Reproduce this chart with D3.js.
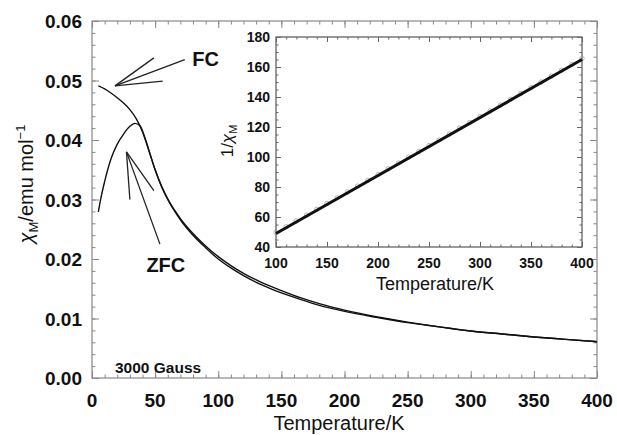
<!DOCTYPE html>
<html lang="en">
<head>
<meta charset="UTF-8">
<title>FC / ZFC susceptibility</title>
<script src="https://d3js.org/d3.v7.min.js"></script>
<style>
  body { margin: 0; background: #fff; }
  svg { font-family: 'Liberation Sans', Arial, Helvetica, sans-serif; }
  .domain { stroke: none; }
  .main-ax .tick line { stroke: #888; }
  .inset-ax .tick line { stroke: #666; }
</style>
</head>
<body>
<svg width="617" height="435"></svg>
<script>
// ---- data ----
var fcT   = [5, 10, 15, 20, 25, 30, 35, 40, 45, 50, 55, 60, 70, 80, 90, 100, 110, 120, 135, 150, 165, 180, 200, 225, 250, 275, 300, 325, 350, 375, 400];
var fcChi = [0.0491, 0.0486, 0.0479, 0.0471, 0.0462, 0.0451, 0.0436, 0.0414, 0.0383, 0.0350, 0.0323, 0.0301, 0.0268, 0.0243, 0.0222, 0.0204, 0.0189, 0.0176, 0.0160, 0.0147, 0.0135, 0.0125, 0.0114, 0.0103, 0.0094, 0.0086, 0.0079, 0.0074, 0.0069, 0.0065, 0.0061];

var zfcT   = [5, 7, 10, 15, 20, 25, 30, 34, 38, 42, 46, 50, 55, 60, 70, 80, 90, 100, 110, 120, 135, 150, 165, 180, 200, 225, 250, 275, 300, 325, 350, 375, 400];
var zfcChi = [0.0279, 0.0302, 0.0330, 0.0368, 0.0393, 0.0410, 0.0423, 0.0428, 0.0424, 0.0403, 0.0376, 0.0350, 0.0322, 0.0300, 0.0266, 0.0240, 0.0219, 0.0200, 0.0185, 0.0172, 0.0156, 0.0143, 0.0132, 0.0122, 0.0112, 0.0102, 0.0093, 0.0086, 0.0079, 0.0074, 0.0069, 0.0065, 0.0061];

// inset: 1/chi data points and the Curie-Weiss fit
var invT   = [100, 110, 120, 130, 140, 150, 160, 170, 180, 190, 200, 210, 220, 230, 240, 250, 260, 270, 280, 290, 300, 310, 320, 330, 340, 350, 360, 370, 380, 390, 400];
var invChi = [49.3, 53.2, 57.1, 61.0, 64.8, 68.7, 72.5, 76.4, 80.3, 84.1, 88.0, 91.8, 95.7, 99.6, 103.4, 107.3, 111.1, 115.0, 118.9, 122.7, 126.6, 130.4, 134.3, 138.2, 142.0, 145.9, 149.7, 153.6, 157.5, 161.3, 165.4];
var fitT   = [100, 400];
var fitInv = [49, 165];

var mainXTicks = [0, 50, 100, 150, 200, 250, 300, 350, 400];
var mainYTicks = [0, 0.01, 0.02, 0.03, 0.04, 0.05, 0.06];
var insetXTicks = [100, 150, 200, 250, 300, 350, 400];
var insetYTicks = [40, 60, 80, 100, 120, 140, 160, 180];

// annotation arrows (tip, shaft end, two barb ends) in data units
var fcArrow  = {tip: [18.2, 0.0491], tail: [73.5, 0.0535], barbs: [[49, 0.0538], [56, 0.0499]]};
var zfcArrow = {tip: [27.3, 0.0380], tail: [53.8, 0.0225], barbs: [[30, 0.0300], [49, 0.0315]]};

var svg = d3.select("svg");

// ---- main panel ----
var x = d3.scaleLinear().domain([0, 400]).range([92, 597]);
var y = d3.scaleLinear().domain([0, 0.06]).range([378, 21]);

function minor(scale, step) {
    var d = scale.domain(), out = [];
    for (var v = d[0]; v <= d[1] + 1e-9; v += step) out.push(+v.toFixed(6));
    return out;
}

// inward ticks on all four sides of a box
function ticks(g, xs, ys, xMaj, xMin, yMaj, yMin, majLen, minLen, cls) {
    var xr = xs.range(), yr = ys.range();
    [[d3.axisBottom, yr[0]], [d3.axisTop, yr[1]]].forEach(function (p) {
        g.append("g").attr("class", cls).attr("transform", "translate(0," + p[1] + ")")
            .call(p[0](xs).tickValues(minor(xs, xMin)).tickSize(-minLen).tickFormat(""));
        g.append("g").attr("class", cls).attr("transform", "translate(0," + p[1] + ")")
            .call(p[0](xs).tickValues(xMaj).tickSize(-majLen).tickFormat(""));
    });
    [[d3.axisLeft, xr[0]], [d3.axisRight, xr[1]]].forEach(function (p) {
        g.append("g").attr("class", cls).attr("transform", "translate(" + p[1] + ",0)")
            .call(p[0](ys).tickValues(minor(ys, yMin)).tickSize(-minLen).tickFormat(""));
        g.append("g").attr("class", cls).attr("transform", "translate(" + p[1] + ",0)")
            .call(p[0](ys).tickValues(yMaj).tickSize(-majLen).tickFormat(""));
    });
}

// frame
svg.append("rect")
    .attr("x", x(0)).attr("y", y(0.06))
    .attr("width", x(400) - x(0)).attr("height", y(0) - y(0.06))
    .attr("fill", "none").attr("stroke", "#888").attr("stroke-width", 1.2);

ticks(svg.append("g"), x, y, mainXTicks, 10, mainYTicks, 0.002, 7, 3.5, "main-ax");

// tick labels
svg.append("g").selectAll("text").data(mainXTicks).enter().append("text")
    .attr("x", function (d) { return x(d); }).attr("y", 407)
    .attr("text-anchor", "middle").attr("font-size", 19).attr("font-weight", "bold")
    .attr("fill", "#111").text(function (d) { return d; });
svg.append("g").selectAll("text").data(mainYTicks).enter().append("text")
    .attr("x", 82).attr("y", function (d) { return y(d) + 7; })
    .attr("text-anchor", "end").attr("font-size", 19).attr("font-weight", "bold")
    .attr("fill", "#111").text(function (d) { return d3.format(".2f")(d); });

// axis titles
svg.append("text").attr("x", 339).attr("y", 430).attr("text-anchor", "middle")
    .attr("font-size", 20).attr("fill", "#111").text("Temperature/K");

var yt = svg.append("text").attr("transform", "translate(33,184) rotate(-90)")
    .attr("text-anchor", "middle").attr("font-size", 20).attr("fill", "#111");
yt.append("tspan").attr("font-style", "italic").text("χ");
yt.append("tspan").attr("font-size", 13).attr("dy", 5).text("M");
yt.append("tspan").attr("dy", -5).text("/emu mol");
yt.append("tspan").attr("font-size", 13).attr("dy", -8).text("−1");

// curves
var line = d3.line().x(function (d) { return x(d[0]); }).y(function (d) { return y(d[1]); })
    .curve(d3.curveMonotoneX);
svg.append("path").datum(d3.zip(fcT, fcChi)).attr("d", line)
    .attr("fill", "none").attr("stroke", "#111").attr("stroke-width", 1.4);
svg.append("path").datum(d3.zip(zfcT, zfcChi)).attr("d", line)
    .attr("fill", "none").attr("stroke", "#111").attr("stroke-width", 1.4);

// annotations
function arrow(a) {
    var segs = [[a.tip, a.tail]].concat(a.barbs.map(function (b) { return [a.tip, b]; }));
    svg.append("g").selectAll("line").data(segs).enter().append("line")
        .attr("x1", function (s) { return x(s[0][0]); }).attr("y1", function (s) { return y(s[0][1]); })
        .attr("x2", function (s) { return x(s[1][0]); }).attr("y2", function (s) { return y(s[1][1]); })
        .attr("stroke", "#222").attr("stroke-width", 1.3);
}
arrow(fcArrow);
arrow(zfcArrow);

svg.append("text").attr("x", x(79.5)).attr("y", y(0.0524)).attr("font-size", 20)
    .attr("font-weight", "bold").attr("fill", "#111").text("FC");
svg.append("text").attr("x", x(58.5)).attr("y", y(0.01775)).attr("text-anchor", "middle")
    .attr("font-size", 20).attr("font-weight", "bold").attr("fill", "#111").text("ZFC");
svg.append("text").attr("x", x(18.2)).attr("y", 373).attr("font-size", 15.5)
    .attr("font-weight", "bold").attr("fill", "#111").text("3000 Gauss");

// ---- inset ----
var ix = d3.scaleLinear().domain([100, 400]).range([276, 582]);
var iy = d3.scaleLinear().domain([40, 180]).range([247, 37]);

svg.append("rect")
    .attr("x", ix(100)).attr("y", iy(180))
    .attr("width", ix(400) - ix(100)).attr("height", iy(40) - iy(180))
    .attr("fill", "#fff").attr("stroke", "#555").attr("stroke-width", 1.2);

ticks(svg.append("g"), ix, iy, insetXTicks, 10, insetYTicks, 5, 5, 2.5, "inset-ax");

svg.append("g").selectAll("circle").data(d3.zip(invT, invChi)).enter().append("circle")
    .attr("cx", function (d) { return ix(d[0]); }).attr("cy", function (d) { return iy(d[1]) - 0.5; })
    .attr("r", 2.2).attr("fill", "none").attr("stroke", "#999").attr("stroke-width", 0.7);

svg.append("path").datum(d3.zip(fitT, fitInv))
    .attr("d", d3.line().x(function (d) { return ix(d[0]); }).y(function (d) { return iy(d[1]); }))
    .attr("stroke", "#111").attr("stroke-width", 3).attr("fill", "none");

svg.append("g").selectAll("text").data(insetXTicks).enter().append("text")
    .attr("x", function (d) { return ix(d); }).attr("y", 268)
    .attr("text-anchor", "middle").attr("font-size", 14).attr("font-weight", "bold")
    .attr("fill", "#111").text(function (d) { return d; });
svg.append("g").selectAll("text").data(insetYTicks).enter().append("text")
    .attr("x", 270).attr("y", function (d) { return iy(d) + 5; })
    .attr("text-anchor", "end").attr("font-size", 14).attr("font-weight", "bold")
    .attr("fill", "#111").text(function (d) { return d; });

svg.append("text").attr("x", 435).attr("y", 290).attr("text-anchor", "middle")
    .attr("font-size", 18).attr("fill", "#111").text("Temperature/K");

var iyt = svg.append("text").attr("transform", "translate(233,141) rotate(-90)")
    .attr("text-anchor", "middle").attr("font-size", 17).attr("fill", "#111");
iyt.append("tspan").text("1/");
iyt.append("tspan").attr("font-style", "italic").text("χ");
iyt.append("tspan").attr("font-size", 11).attr("dy", 4).text("M");
</script>
</body>
</html>
